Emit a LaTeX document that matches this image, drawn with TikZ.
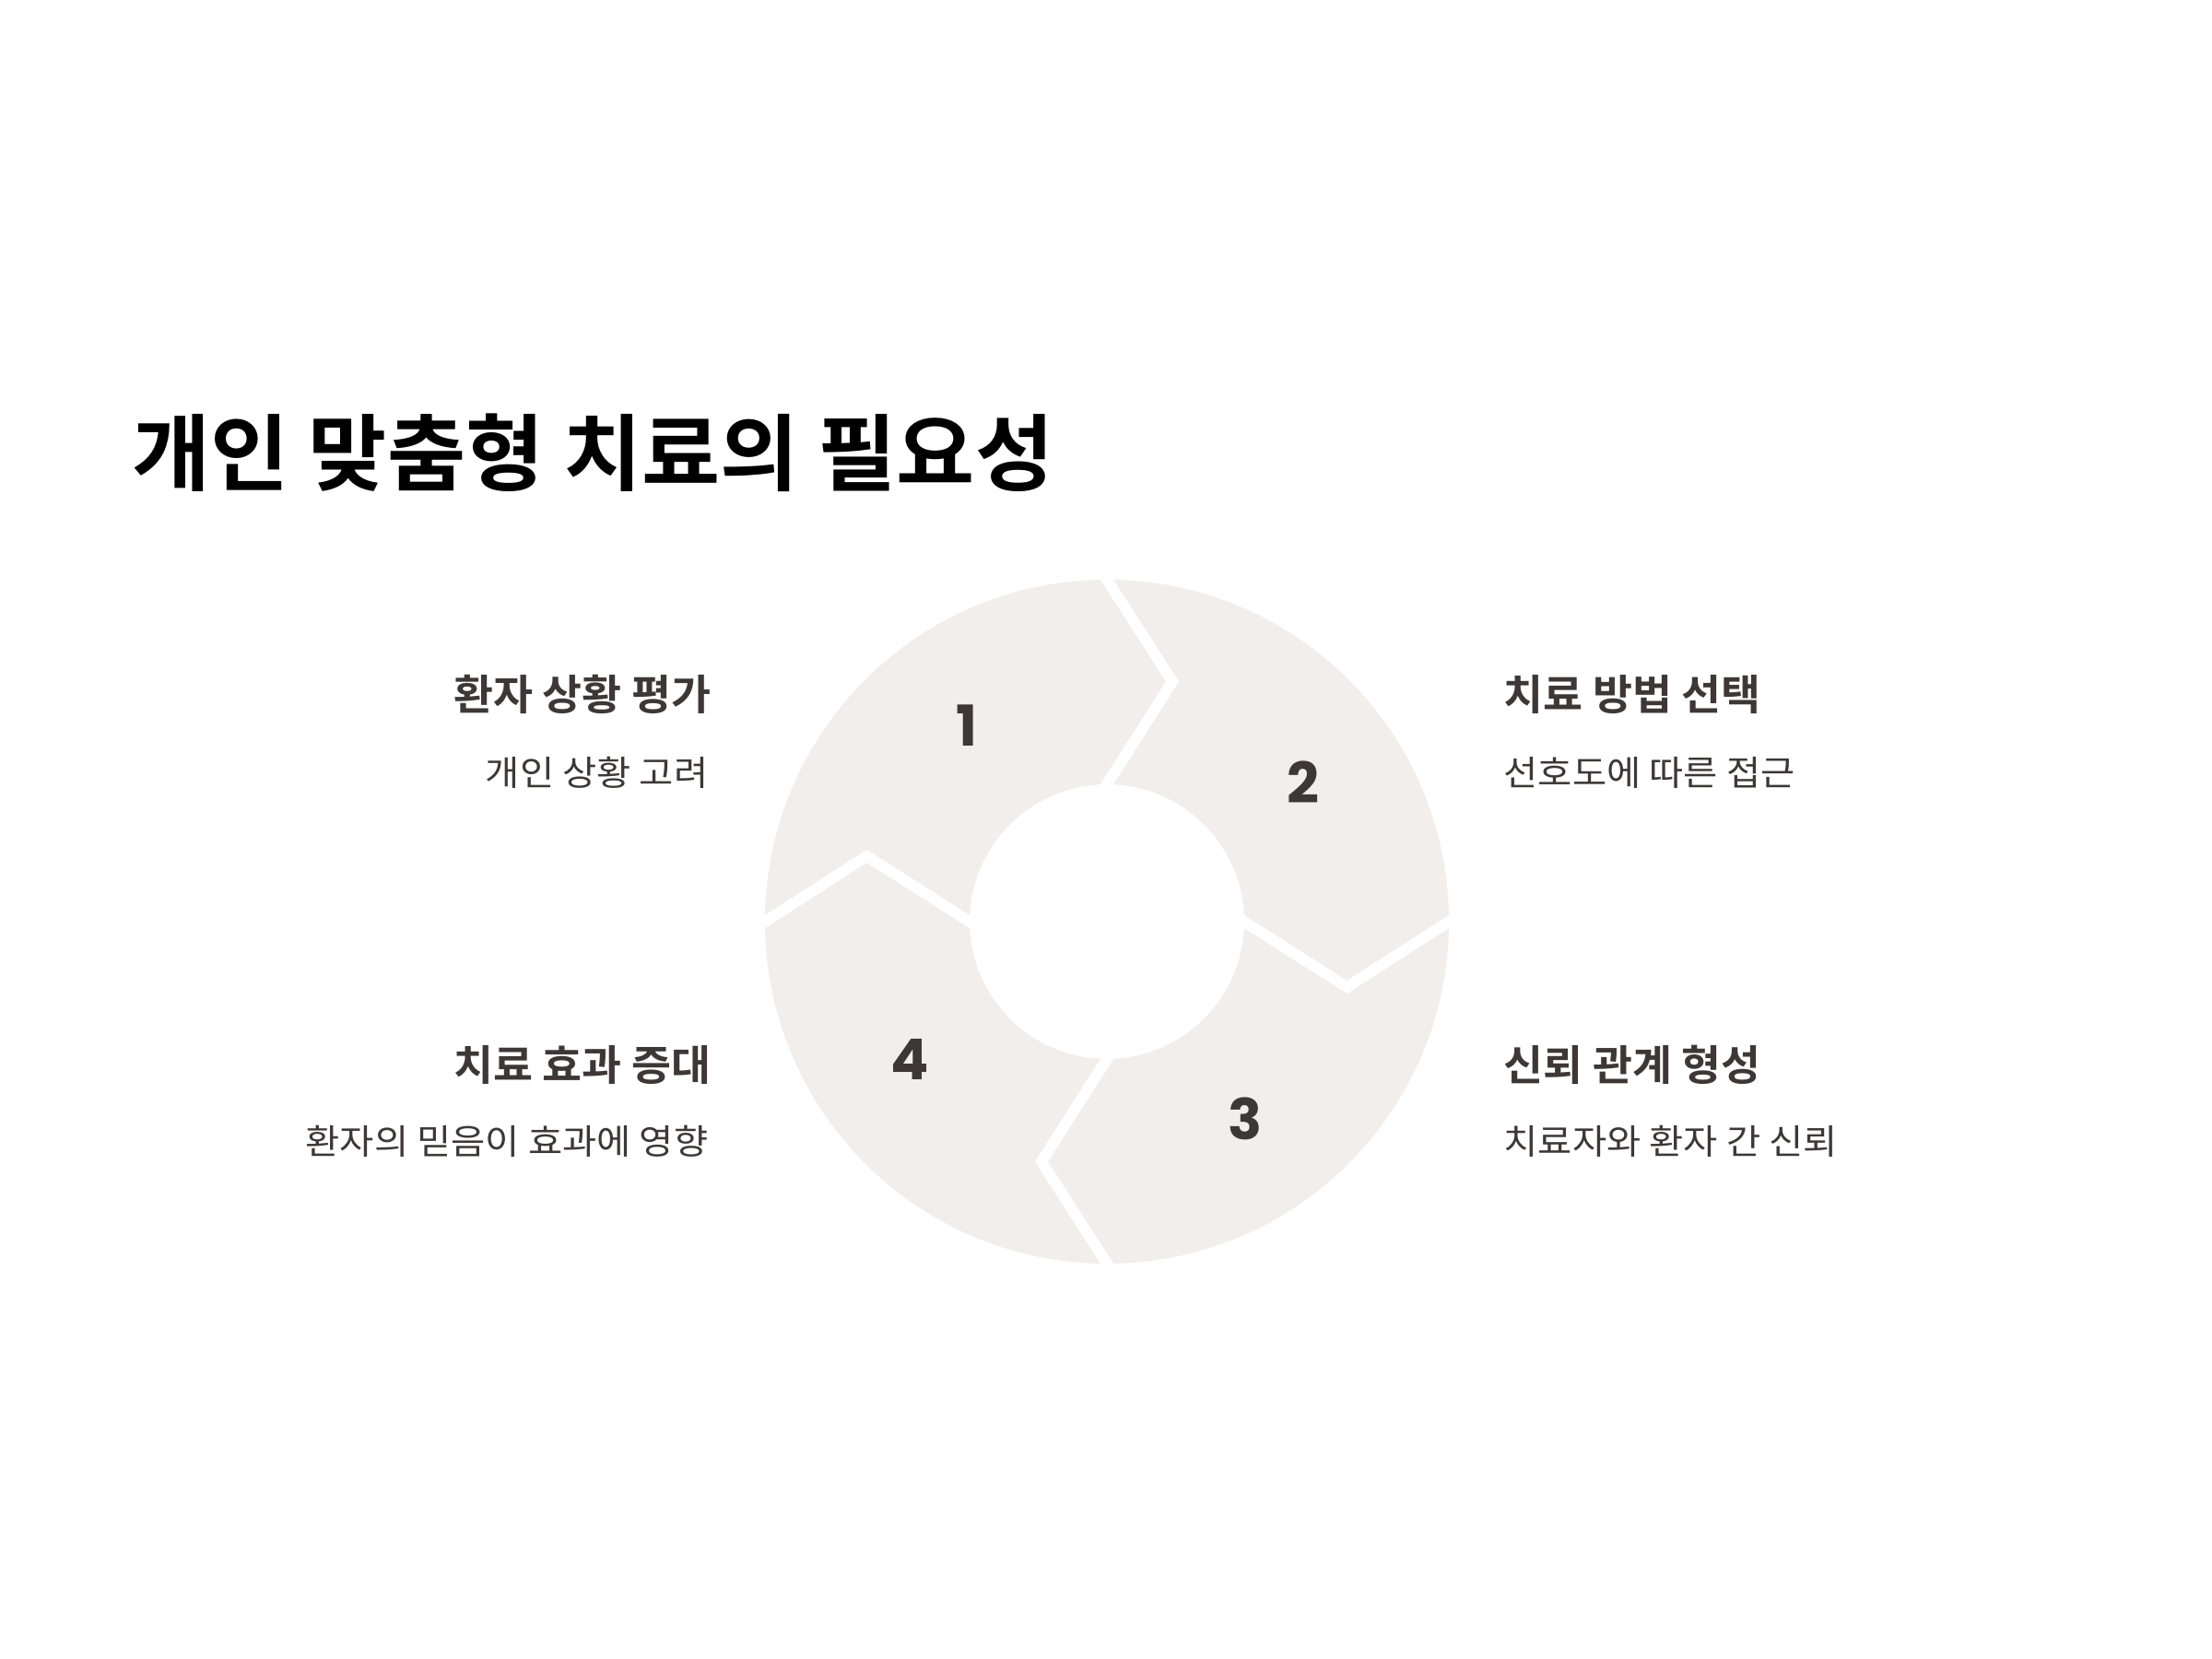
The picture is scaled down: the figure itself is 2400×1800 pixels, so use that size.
\documentclass[tikz,border=0pt]{standalone}
\usepackage{fontspec}
\usetikzlibrary{calc}
\newfontfamily\krfont{Noto Sans CJK KR}[BoldFont={Noto Sans CJK KR Bold}]
\newfontfamily\krtitle{Noto Sans CJK KR Bold}[FakeStretch=1.02]
\newfontfamily\krhead{Noto Sans CJK KR Bold}[FakeStretch=1.03]
\newfontfamily\krsub{Noto Sans CJK KR}[FakeStretch=1.075]
\newfontfamily\numfont{Poppins}[BoldFont={Poppins Bold}]
\definecolor{segfill}{HTML}{F1EEEC}
\definecolor{inkdark}{HTML}{3D3836}
\begin{document}
\begin{tikzpicture}[x=0.01cm,y=0.01cm,
  seg/.style={fill=segfill},
  gapline/.style={draw=white,line width=3.4pt,line join=miter},
  numlabel/.style={text=inkdark,inner sep=0pt,font=\numfont\bfseries\fontsize{17.4pt}{20pt}\selectfont},
  headtext/.style={text=inkdark,inner sep=0pt,font=\krhead\fontsize{12.9pt}{15pt}\selectfont},
  subtext/.style={text=inkdark,inner sep=0pt,font=\krsub\fontsize{10.7pt}{13pt}\selectfont},
  titletext/.style={text=black,inner sep=0pt,font=\krtitle\fontsize{25.8pt}{30pt}\selectfont}]
\useasboundingbox[fill=white] (0,0) rectangle (2400,1800);
\coordinate (c) at (1201,800);
% annulus
\fill[seg,even odd rule] (c) circle[radius=371] (c) circle[radius=149];
% chevron gaps
\foreach \t/\n in {90/a,0/b,-90/c,180/d}{
  \pgfmathsetmacro{\ka}{\t-15.25}
  \coordinate (O\n) at ($(c)+(\t:371)$);
  \coordinate (I\n) at ($(c)+(\t:149)$);
  \coordinate (K\n) at ($(c)+(\ka:270)$);
  \draw[gapline] ($(K\n)!1.3!(O\n)$) -- (K\n) -- ($(K\n)!1.3!(I\n)$);
}
% numbers
\node[numlabel] (n1) at ($(c)+(125.5:262)$) {1};
\node[numlabel] (n2) at ($(c)+(35.5:261)$) {2};
\node[numlabel] (n3) at ($(c)+(-55:261)$) {3};
\node[numlabel] (n4) at ($(c)+(215:261)$) {4};
% title
\node[titletext,anchor=base west] (title) at (143,1274) {개인 맞춤형 치료의 필요성};
% left texts
\node[headtext,anchor=base east] (h1) at (772,1029) {환자 상황 평가};
\node[subtext,anchor=base east] (s1) at (769,947) {개인 상황 고려};
\node[headtext,anchor=base east] (h4) at (772,627) {치료 효과 증대};
\node[subtext,anchor=base east] (s4) at (769,547) {환자의 믿음이 효과에 영향};
% right texts
\node[headtext,anchor=base west] (h2) at (1631,1029) {치료 방법 선택};
\node[subtext,anchor=base west] (s2) at (1631,947) {선호도에 따른 접근};
\node[headtext,anchor=base west] (h3) at (1631,627) {신뢰 관계 형성};
\node[subtext,anchor=base west] (s3) at (1631,547) {치료자와 환자 간 신뢰};
\end{tikzpicture}
\end{document}
